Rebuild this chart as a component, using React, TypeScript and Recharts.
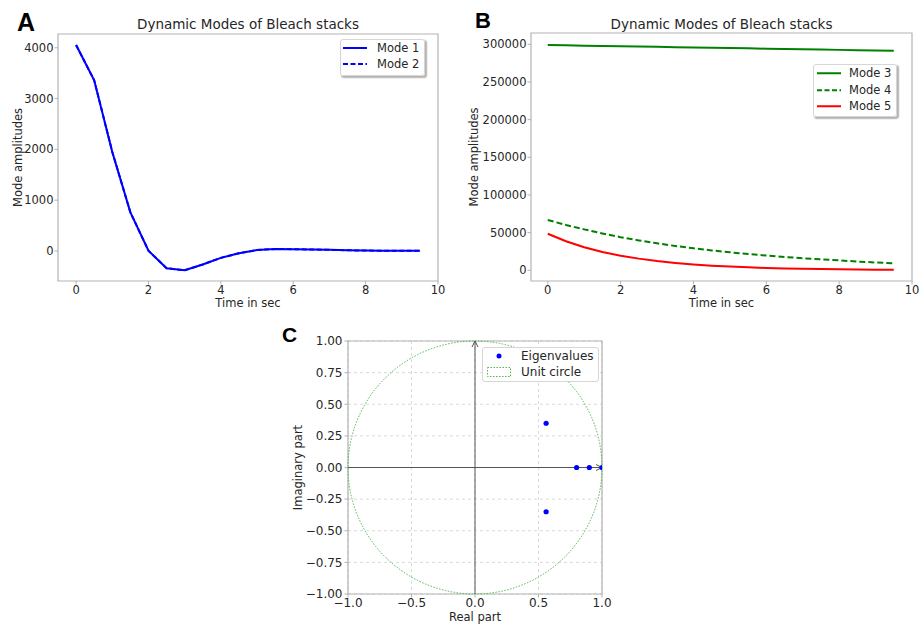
import React from "react";
import {
  LineChart,
  Line,
  XAxis,
  YAxis,
  Legend,
  Label,
  ReferenceArea,
  ReferenceLine,
  ScatterChart,
  Scatter,
  CartesianGrid,
} from "recharts";

// time axis shared by panels A and B
const timeSec = [0, 0.5, 1, 1.5, 2, 2.5, 3, 3.5, 4, 4.5, 5, 5.5, 6, 6.5, 7, 7.5, 8, 8.5, 9, 9.5];

// panel A
const mode1 = [4055, 3360, 1950, 760, 5, -340, -380, -265, -135, -45, 18, 40, 35, 30, 22, 14, 8, 5, 3, 2];
const mode2 = [4055, 3360, 1950, 760, 5, -340, -380, -265, -135, -45, 18, 40, 35, 30, 22, 14, 8, 5, 3, 2];

// panel B
const mode3 = [299000, 298600, 298200, 297800, 297400, 297000, 296600, 296200, 295800, 295400, 295000, 294600, 294200, 293800, 293400, 293000, 292600, 292200, 291900, 291500];
const mode4 = [66800, 60200, 54300, 48900, 44000, 39700, 35800, 32300, 29200, 26400, 23900, 21600, 19500, 17700, 16000, 14500, 13200, 11600, 10400, 9300];
const mode5 = [48500, 38600, 30700, 24400, 19400, 15500, 12300, 9800, 7800, 6200, 4900, 3900, 3100, 2500, 2000, 1600, 1300, 1000, 800, 650];

// panel C
const eigReal = [0.56, 0.56, 0.8, 0.9, 1.0];
const eigImag = [0.35, -0.35, 0, 0, 0];

// tick labels
const timeTicks = [0, 2, 4, 6, 8, 10];
const ampTicksA = [0, 1000, 2000, 3000, 4000];
const ampTicksB = [0, 50000, 100000, 150000, 200000, 250000, 300000];
const realTicks = [-1, -0.5, 0, 0.5, 1];
const imagTicks = [-1, -0.75, -0.5, -0.25, 0, 0.25, 0.5, 0.75, 1];

const dataA = timeSec.map((t, i) => ({ t, m1: mode1[i], m2: mode2[i] }));
const dataB = timeSec.map((t, i) => ({ t, m3: mode3[i], m4: mode4[i], m5: mode5[i] }));
const dataC = eigReal.map((re, i) => ({ re, im: eigImag[i] }));

const SPINE = "#b3b3b3";
const TXT = "#262626";
const FONT = "DejaVu Sans";

type Row = { label: string; kind: "solid" | "dashed" | "dot" | "patch"; color: string };

function BoxLegend({ rows, fontSize, rowHeight, padding, gap, shadow }: {
  rows: Row[]; fontSize: number; rowHeight: number; padding: string; gap: number; shadow: boolean;
}) {
  return (
    <div
      style={{
        background: "rgba(255,255,255,0.85)",
        border: "1px solid #d6d6d6",
        borderRadius: 3,
        padding,
        boxShadow: shadow ? "1.5px 1.5px 1.5px rgba(0,0,0,0.3)" : "none",
        fontFamily: FONT,
        fontSize,
        color: TXT,
        whiteSpace: "nowrap",
      }}
    >
      {rows.map((r) => (
        <div key={r.label} style={{ display: "flex", alignItems: "center", height: rowHeight }}>
          <svg width={24} height={rowHeight} style={{ marginRight: gap, flex: "none" }}>
            {r.kind === "solid" && (
              <line x1={0} x2={24} y1={rowHeight / 2} y2={rowHeight / 2} stroke={r.color} strokeWidth={2} />
            )}
            {r.kind === "dashed" && (
              <line x1={0} x2={24} y1={rowHeight / 2} y2={rowHeight / 2} stroke={r.color} strokeWidth={2} strokeDasharray="5 2.5" />
            )}
            {r.kind === "dot" && <circle cx={12} cy={rowHeight / 2} r={2.5} fill={r.color} />}
            {r.kind === "patch" && (
              <rect x={0.5} y={rowHeight / 2 - 4.5} width={23} height={9} fill="none" stroke={r.color} strokeWidth={1} strokeDasharray="1.5 1.5" />
            )}
          </svg>
          <span>{r.label}</span>
        </div>
      ))}
    </div>
  );
}

const legendPos = (left: number, top: number) => ({
  left,
  top,
  right: "auto",
  bottom: "auto",
  width: "auto",
  height: "auto",
});

// axis line through the origin with an open arrow head at its far end
const ArrowLine = (p: any) => {
  const { x1, y1, x2, y2 } = p;
  const vertical = Math.abs(x1 - x2) < 0.5;
  let head = "";
  if (vertical) {
    const tx = x1;
    const ty = Math.min(y1, y2);
    head = `${tx - 3},${ty + 6} ${tx},${ty} ${tx + 3},${ty + 6}`;
  } else {
    const tx = Math.max(x1, x2);
    const ty = y1;
    head = `${tx - 6},${ty - 3} ${tx},${ty} ${tx - 6},${ty + 3}`;
  }
  return (
    <g>
      <line x1={x1} y1={y1} x2={x2} y2={y2} stroke="#555" strokeWidth={1} />
      <polyline points={head} fill="none" stroke="#555" strokeWidth={1} />
    </g>
  );
};

const UnitCircle = (p: any) => (
  <ellipse
    cx={p.x + p.width / 2}
    cy={p.y + p.height / 2}
    rx={p.width / 2}
    ry={p.height / 2}
    fill="none"
    stroke="#4cb84c"
    strokeWidth={1}
    strokeDasharray="1.5 1.5"
  />
);

const fmtMinus = (s: string) => s.replace("-", "\u2212");

function PanelA() {
  return (
    <LineChart width={460} height={320} data={dataA} margin={{ top: 34, right: 22, bottom: 9, left: 10 }}>
      <XAxis
        dataKey="t"
        type="number"
        domain={[-0.5, 10]}
        ticks={timeTicks}
        height={30}
        axisLine={false}
        tickLine={{ stroke: SPINE }}
        tickSize={3.5}
        tickMargin={1.5}
        tick={{ fill: TXT, fontSize: 11.5 }}
      >
        <Label value="Time in sec" position="insideBottom" offset={4} style={{ fill: TXT, fontSize: 11.5 }} />
      </XAxis>
      <YAxis
        type="number"
        domain={[-591, 4271]}
        ticks={ampTicksA}
        width={48}
        axisLine={false}
        tickLine={{ stroke: SPINE }}
        tickSize={3.5}
        tickMargin={1}
        tick={{ fill: TXT, fontSize: 11.5 }}
      >
        <Label value="Mode amplitudes" angle={-90} position="insideLeft" offset={7.5} style={{ fill: TXT, fontSize: 11.5, textAnchor: "middle" }} />
      </YAxis>
      <ReferenceArea x1={-0.5} x2={10} y1={-591} y2={4271} fill="none" stroke={SPINE} strokeWidth={1.2} />
      <Line dataKey="m1" name="Mode 1" stroke="#0000ff" strokeWidth={2} dot={false} isAnimationActive={false} />
      <Line dataKey="m2" name="Mode 2" stroke="#0000ff" strokeWidth={2} strokeDasharray="5 2.5" dot={false} isAnimationActive={false} />
      <Legend
        layout="horizontal"
        verticalAlign="middle"
        align="center"
        wrapperStyle={legendPos(340, 39)}
        content={() => (
          <BoxLegend
            rows={[
              { label: "Mode 1", kind: "solid", color: "#0000ff" },
              { label: "Mode 2", kind: "dashed", color: "#0000ff" },
            ]}
            fontSize={11.5}
            rowHeight={16}
            padding="0 5px 3px 2px"
            gap={10}
            shadow
          />
        )}
      />
    </LineChart>
  );
}

function PanelB() {
  return (
    <LineChart width={461} height={320} data={dataB} margin={{ top: 33, right: 9, bottom: 9, left: 11 }}>
      <XAxis
        dataKey="t"
        type="number"
        domain={[-0.46, 10]}
        ticks={timeTicks}
        height={30}
        axisLine={false}
        tickLine={{ stroke: SPINE }}
        tickSize={3.5}
        tickMargin={1.5}
        tick={{ fill: TXT, fontSize: 11.5 }}
      >
        <Label value="Time in sec" position="insideBottom" offset={4} style={{ fill: TXT, fontSize: 11.5 }} />
      </XAxis>
      <YAxis
        type="number"
        domain={[-14200, 315000]}
        ticks={ampTicksB}
        width={60}
        axisLine={false}
        tickLine={{ stroke: SPINE }}
        tickSize={3.5}
        tickMargin={1}
        tick={{ fill: TXT, fontSize: 11.5 }}
      >
        <Label value="Mode amplitudes" angle={-90} position="insideLeft" offset={3} style={{ fill: TXT, fontSize: 11.5, textAnchor: "middle" }} />
      </YAxis>
      <ReferenceArea x1={-0.46} x2={10} y1={-14200} y2={315000} fill="none" stroke={SPINE} strokeWidth={1.2} />
      <Line dataKey="m3" name="Mode 3" stroke="#008000" strokeWidth={2} dot={false} isAnimationActive={false} />
      <Line dataKey="m4" name="Mode 4" stroke="#008000" strokeWidth={2} strokeDasharray="6 3" dot={false} isAnimationActive={false} />
      <Line dataKey="m5" name="Mode 5" stroke="#ff0000" strokeWidth={2} dot={false} isAnimationActive={false} />
      <Legend
        layout="horizontal"
        verticalAlign="middle"
        align="center"
        wrapperStyle={legendPos(353, 64)}
        content={() => (
          <BoxLegend
            rows={[
              { label: "Mode 3", kind: "solid", color: "#008000" },
              { label: "Mode 4", kind: "dashed", color: "#008000" },
              { label: "Mode 5", kind: "solid", color: "#ff0000" },
            ]}
            fontSize={11.5}
            rowHeight={16.5}
            padding="0 5px 1.5px 3px"
            gap={8}
            shadow
          />
        )}
      />
    </LineChart>
  );
}

function PanelC() {
  return (
    <ScatterChart width={340} height={304} margin={{ top: 21, right: 18, bottom: 2, left: 10 }}>
      <CartesianGrid stroke="#d9d9d9" strokeDasharray="3 3" />
      <XAxis
        dataKey="re"
        type="number"
        domain={[-1, 1]}
        ticks={realTicks}
        height={28}
        axisLine={false}
        tickLine={{ stroke: SPINE }}
        tickSize={3.5}
        tickMargin={1}
        tickFormatter={(v: number) => fmtMinus(v.toFixed(1))}
        tick={{ fill: TXT, fontSize: 12 }}
        allowDataOverflow
      >
        <Label value="Real part" position="insideBottom" offset={1} style={{ fill: TXT, fontSize: 11.5 }} />
      </XAxis>
      <YAxis
        dataKey="im"
        type="number"
        domain={[-1, 1]}
        ticks={imagTicks}
        width={58}
        axisLine={false}
        tickLine={{ stroke: SPINE }}
        tickSize={3.5}
        tickMargin={2}
        tickFormatter={(v: number) => fmtMinus(v.toFixed(2))}
        tick={{ fill: TXT, fontSize: 12 }}
        allowDataOverflow
      >
        <Label value="Imaginary part" angle={-90} position="insideLeft" offset={8} style={{ fill: TXT, fontSize: 11.5, textAnchor: "middle" }} />
      </YAxis>
      <ReferenceArea x1={-1} x2={1} y1={-1} y2={1} fill="none" stroke={SPINE} strokeWidth={1.2} />
      <ReferenceArea x1={-1} x2={1} y1={-1} y2={1} shape={UnitCircle} />
      <ReferenceLine y={0} shape={ArrowLine} />
      <ReferenceLine x={0} shape={ArrowLine} />
      <Scatter
        data={dataC}
        name="Eigenvalues"
        fill="#0000ff"
        isAnimationActive={false}
        shape={(p: any) => <circle cx={p.cx} cy={p.cy} r={2.6} fill="#0000ff" />}
      />
      <Legend
        layout="horizontal"
        verticalAlign="middle"
        align="center"
        wrapperStyle={legendPos(202, 27)}
        content={() => (
          <BoxLegend
            rows={[
              { label: "Eigenvalues", kind: "dot", color: "#0000ff" },
              { label: "Unit circle", kind: "patch", color: "#4cb84c" },
            ]}
            fontSize={12}
            rowHeight={16}
            padding="0 4px 1px 4px"
            gap={10}
            shadow={false}
          />
        )}
      />
    </ScatterChart>
  );
}

const letterStyle = (left: number, top: number, size: number): React.CSSProperties => ({
  position: "absolute",
  left,
  top,
  fontFamily: "Liberation Sans",
  fontWeight: 700,
  fontSize: size,
  lineHeight: 1,
  color: "#000",
});

const titleStyle = (left: number, width: number): React.CSSProperties => ({
  position: "absolute",
  left,
  width,
  top: 18,
  textAlign: "center",
  fontFamily: FONT,
  fontSize: 13.5,
  lineHeight: 1,
  color: TXT,
  whiteSpace: "nowrap",
});

export default function App() {
  return (
    <div style={{ position: "absolute", left: 0, top: 0, width: 921, height: 624, background: "#fff", fontFamily: FONT, overflow: "hidden" }}>
      <div style={{ position: "absolute", left: 0, top: 0 }}>
        <PanelA />
      </div>
      <div style={{ position: "absolute", left: 460, top: 0 }}>
        <PanelB />
      </div>
      <div style={{ position: "absolute", left: 280, top: 320 }}>
        <PanelC />
      </div>
      <div style={titleStyle(58, 380)}>Dynamic Modes of Bleach stacks</div>
      <div style={titleStyle(531, 381)}>Dynamic Modes of Bleach stacks</div>
      <div style={letterStyle(17, 10, 25)}>A</div>
      <div style={letterStyle(475, 10, 22)}>B</div>
      <div style={letterStyle(282, 324, 21)}>C</div>
    </div>
  );
}
